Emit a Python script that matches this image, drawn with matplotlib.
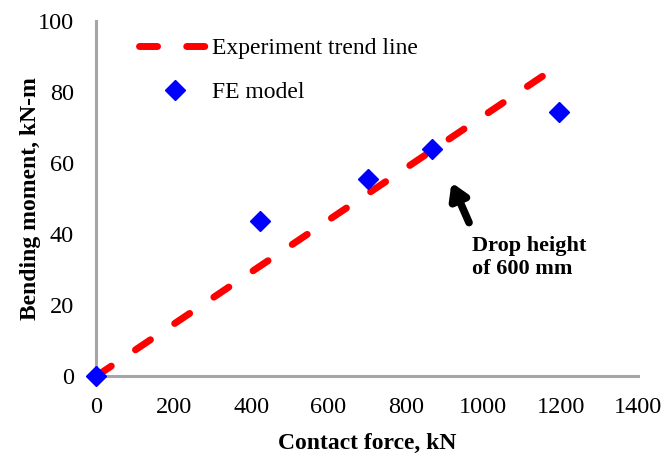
import numpy as np
import matplotlib.pyplot as plt

plt.rcParams['font.family'] = ['Liberation Serif', 'DejaVu Serif']
plt.rcParams['lines.scale_dashes'] = False

# experiment trend line (linear fit)
trend_x = [0, 1160]
trend_y = [0, 84.9]

# FE model results
fe_force = [0, 424, 703, 868, 1195]
fe_moment = [0, 43.6, 55.6, 63.8, 74.3]

x_ticks = [0, 200, 400, 600, 800, 1000, 1200, 1400]
y_ticks = [0, 20, 40, 60, 80, 100]

fig = plt.figure(figsize=(6.64, 4.61), dpi=100)
ax = fig.add_axes([0.145, 0.184, 0.816, 0.771])

ax.plot(trend_x, trend_y, color='#FF0000', lw=5, dashes=(13, 21),
        dash_capstyle='round', label='Experiment trend line', zorder=2)
ax.plot(fe_force, fe_moment, ls='none', marker='D', ms=10, color='#0000FF',
        label='FE model', zorder=3, clip_on=False)

ax.set_xlim(0, 1400)
ax.set_ylim(0, 100)
ax.set_xticks(x_ticks)
ax.set_yticks(y_ticks)
ax.tick_params(length=0, labelsize=17.5)
ax.tick_params(axis='x', pad=15)
ax.tick_params(axis='y', pad=16)

for side in ['top', 'right']:
    ax.spines[side].set_visible(False)
for side in ['left', 'bottom']:
    ax.spines[side].set_color('#A6A6A6')
    ax.spines[side].set_linewidth(2.2)

ax.set_xlabel('Contact force, kN', fontsize=17, fontweight='bold', labelpad=11)
ax.set_ylabel('Bending moment, kN-m', fontsize=17, fontweight='bold', labelpad=-2)

ax.annotate('', xy=(915, 55.2), xytext=(966, 42.5),
            arrowprops=dict(arrowstyle='-|>,head_width=0.55,head_length=0.9',
                            color='black', lw=5.5))
ax.text(972, 33.4, 'Drop height\nof 600 mm', fontsize=16, fontweight='bold',
        ha='left', va='center', linespacing=1.2)

ax.legend(loc='upper left', bbox_to_anchor=(0.04, 1.013), frameon=False,
          fontsize=17, handlelength=3.0, handletextpad=0.1, labelspacing=0.95)

fig.savefig('out.png', dpi=100)
